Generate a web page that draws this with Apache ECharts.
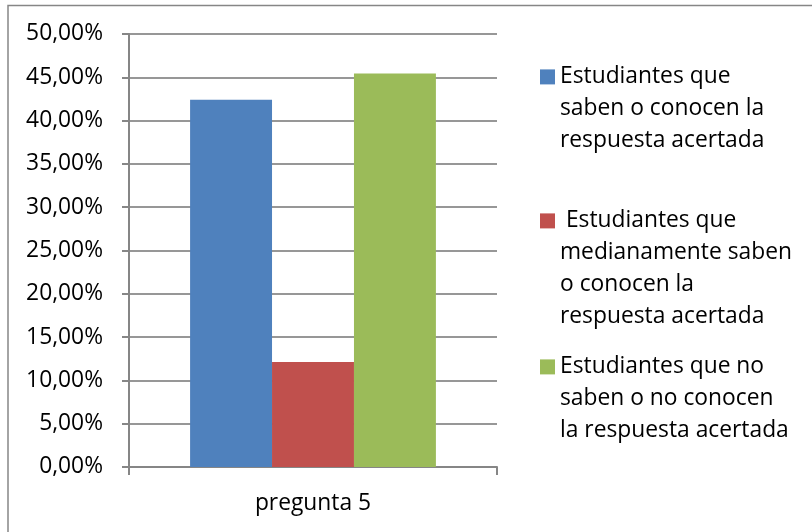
<!DOCTYPE html>
<html>
<head>
<meta charset="utf-8">
<style>
  html, body { margin: 0; padding: 0; background: #fff; }
  #chart { width: 812px; height: 532px; }
</style>
<script src="https://cdn.jsdelivr.net/npm/echarts@6/dist/echarts.min.js"></script>
</head>
<body>
<div id="chart"></div>
<script>
// Question 5 results, share of students per answer level
const categories = ['pregunta 5'];
const seriesNames = [
  'Estudiantes que saben o conocen la respuesta acertada',
  ' Estudiantes que medianamente saben o conocen la respuesta acertada',
  'Estudiantes que no saben o no conocen la respuesta acertada'
];
const seriesValues = [
  [0.4242],
  [0.1212],
  [0.4545]
];
const seriesColors = ['#4F81BD', '#C0504D', '#9BBB59'];
// Legend text broken into lines the way it is laid out beside the plot
const legendLines = [
  ['Estudiantes que', 'saben o conocen la', 'respuesta acertada'],
  [' Estudiantes que', 'medianamente saben', 'o conocen la', 'respuesta acertada'],
  ['Estudiantes que no', 'saben o no conocen', 'la respuesta acertada']
];
const yTicks = { min: 0, max: 0.5, step: 0.05 };

const FONT = 'Open Sans';
const FS = 22.8;
const LINE_H = 31.8;
const AXIS_GRAY = '#868686';

function pct(v) {
  return (v * 100).toFixed(2).replace('.', ',') + '%';
}

// Each legend entry is its own component; the icon path is as tall as the
// text block so the swatch sits beside the first line.
const legendTops = [61, 205, 351];
const legends = legendLines.map(function (lines, i) {
  const h = lines.length * LINE_H;
  const sq = 15;
  const off = (LINE_H - sq) / 2;
  const icon = 'path://M0,0L0,0M' + sq + ',' + h + 'L' + sq + ',' + h +
    'M0,' + off + 'L' + sq + ',' + off + 'L' + sq + ',' + (off + sq) + 'L0,' + (off + sq) + 'Z';
  return {
    data: [seriesNames[i]],
    left: 540,
    top: legendTops[i],
    padding: 0,
    orient: 'vertical',
    itemWidth: sq,
    itemHeight: h,
    icon: icon,
    selectedMode: false,
    formatter: function () { return lines.join('\n'); },
    textStyle: {
      fontFamily: FONT,
      fontSize: FS,
      lineHeight: LINE_H,
      color: '#000'
    }
  };
});

const chart = echarts.init(document.getElementById('chart'), null, { renderer: 'canvas' });
chart.setOption({
  backgroundColor: '#fff',
  animation: false,
  textStyle: { fontFamily: FONT },
  graphic: [{
    type: 'rect',
    shape: { x: 8, y: 5.5, width: 900, height: 600 },
    style: { fill: 'none', stroke: AXIS_GRAY, lineWidth: 1.5 },
    silent: true,
    z: -10
  }],
  legend: legends,
  grid: { left: 129, right: 315, top: 34, bottom: 65, containLabel: false },
  xAxis: {
    type: 'category',
    data: categories,
    axisLine: { lineStyle: { color: AXIS_GRAY, width: 2 } },
    axisTick: { show: true, length: 8, lineStyle: { color: AXIS_GRAY, width: 2 } },
    axisLabel: { fontFamily: FONT, fontSize: FS, color: '#000', margin: 25 }
  },
  yAxis: {
    type: 'value',
    min: yTicks.min,
    max: yTicks.max,
    interval: yTicks.step,
    axisLine: { show: true, lineStyle: { color: AXIS_GRAY, width: 2 } },
    axisTick: { show: true, length: 7, lineStyle: { color: AXIS_GRAY, width: 2 } },
    splitLine: { lineStyle: { color: '#979797', width: 2 } },
    axisLabel: { fontFamily: FONT, fontSize: FS, color: '#000', margin: 26, formatter: pct }
  },
  series: seriesNames.map(function (name, i) {
    return {
      type: 'bar',
      name: name,
      data: seriesValues[i],
      barGap: '0%',
      barCategoryGap: '33.2%',
      itemStyle: { color: seriesColors[i] }
    };
  })
});
</script>
</body>
</html>
